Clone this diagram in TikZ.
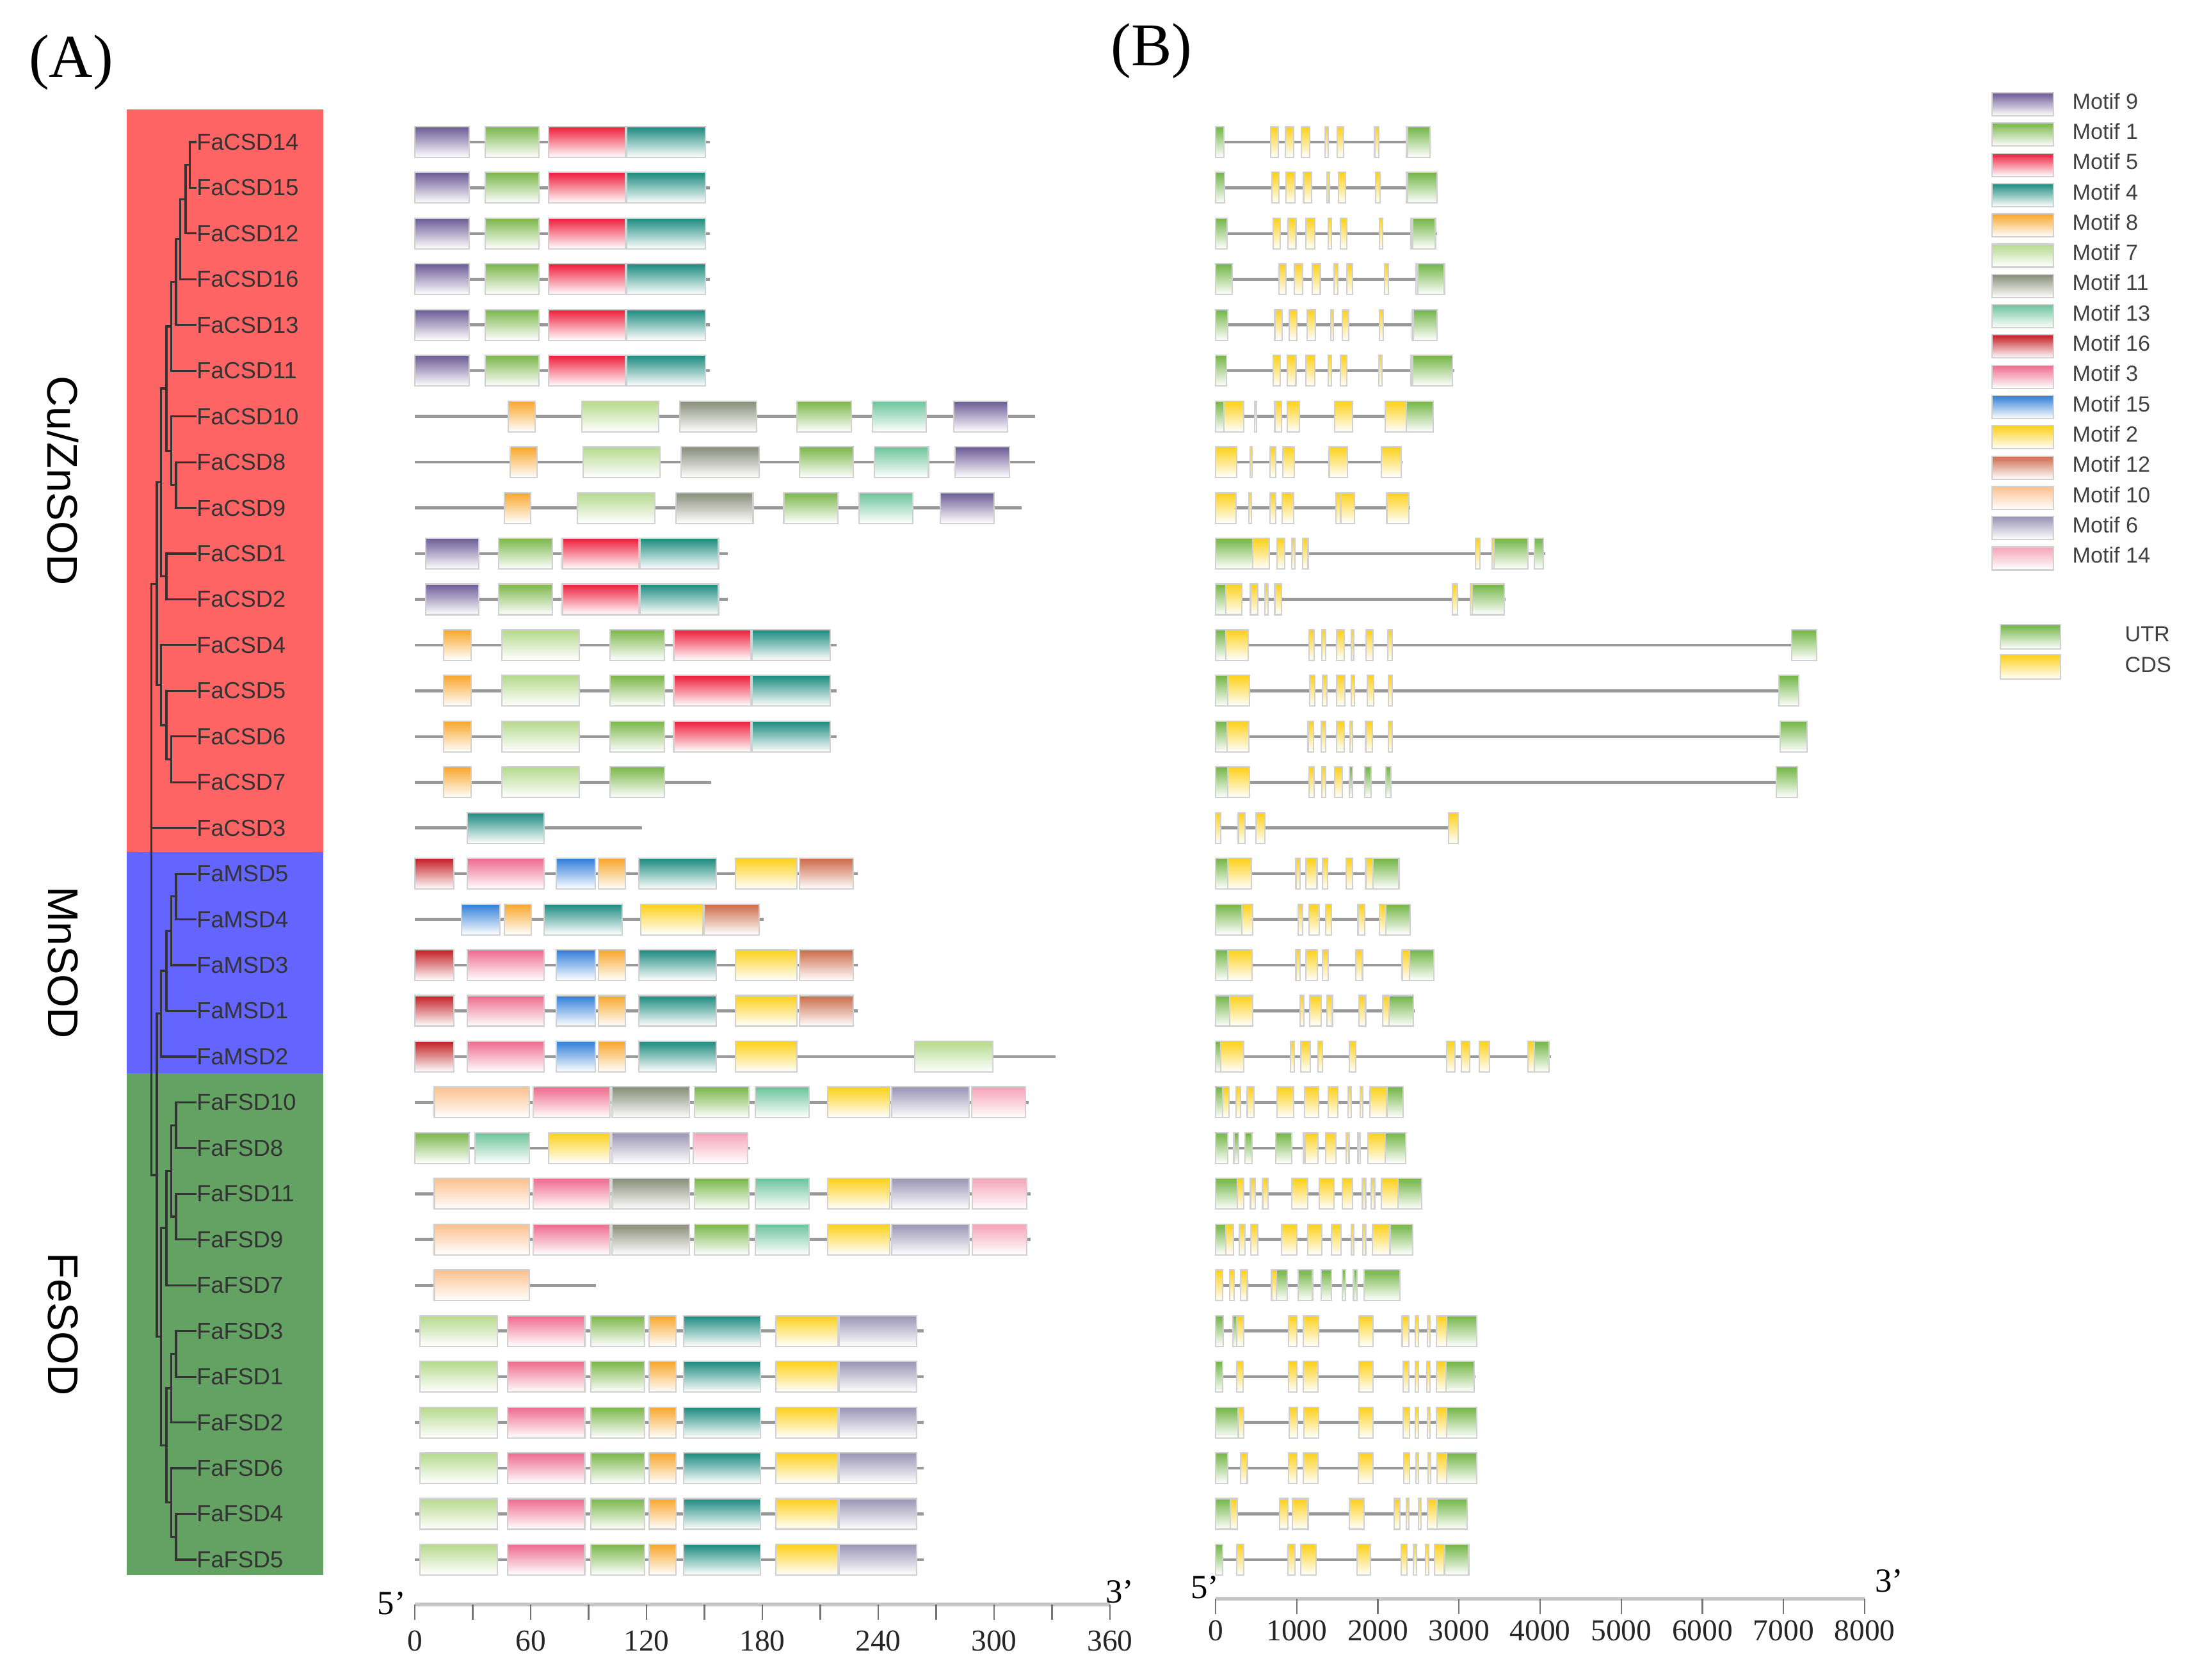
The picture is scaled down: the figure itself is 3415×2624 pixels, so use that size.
\documentclass[tikz,border=0pt]{standalone}
\usepackage{fontspec}
\setmainfont{Liberation Serif}
\newfontfamily\lsans{Liberation Sans}
\usepackage{xcolor}
\usepackage{tikz}
\usetikzlibrary{calc}

\definecolor{cuznband}{RGB}{255,100,100}
\definecolor{mnband}{RGB}{100,100,255}
\definecolor{feband}{RGB}{100,162,100}
\definecolor{mot9}{HTML}{6B5A96}
\definecolor{mot1}{HTML}{7AB648}
\definecolor{mot5}{HTML}{EE1C3A}
\definecolor{mot4}{HTML}{1A8A7E}
\definecolor{mot8}{HTML}{F8A62A}
\definecolor{mot7}{HTML}{B5D98C}
\definecolor{mot11}{HTML}{878C78}
\definecolor{mot13}{HTML}{6CC49A}
\definecolor{mot16}{HTML}{C41E24}
\definecolor{mot3}{HTML}{EE6A8C}
\definecolor{mot15}{HTML}{2F7ED8}
\definecolor{mot2}{HTML}{FDD017}
\definecolor{mot12}{HTML}{CC6A48}
\definecolor{mot10}{HTML}{FCC08C}
\definecolor{mot6}{HTML}{9A94B5}
\definecolor{mot14}{HTML}{F5A3B8}
\definecolor{utrgreen}{HTML}{72B545}
\definecolor{cdsyellow}{HTML}{FDD017}

\tikzstyle{branch} = [draw=black!80, line width=0.9pt]
\tikzstyle{genename} = [anchor=west, inner sep=0pt, text=black!80,
font=\lsans\fontsize{10.3}{12}\selectfont]
\tikzstyle{grouplabel} = [rotate=-90, font=\lsans\fontsize{19}{22}\selectfont]
\tikzstyle{panellabel} = [font=\fontsize{27}{30}\selectfont]
\tikzstyle{backbone} = [draw=black!40, line width=1.3pt]
\tikzstyle{block} = [draw=black!18, line width=0.6pt]
\tikzstyle{axisbar} = [draw=black!22, line width=1.8pt]
\tikzstyle{axistick} = [draw=black!55, line width=0.6pt]
\tikzstyle{ticklabel} = [text=black!85, font=\fontsize{13.5}{15}\selectfont]
\tikzstyle{primelabel} = [font=\fontsize{15}{17}\selectfont]
\tikzstyle{legendtext} = [anchor=west, inner sep=0pt, text=black!75,
font=\lsans\fontsize{9.7}{11}\selectfont]

\newcommand{\rowy}[1]{150.5+71.45*(#1)}
% protein: row, length, motifs start/end/colour
\newcommand{\protrow}[3]{%
  \draw[backbone] (0,{\rowy{#1}}) -- (#2,{\rowy{#1}});
  \foreach \xa/\xb/\col in {#3}
    \path[block, top color=\col, middle color=\col!45, bottom color=white]
      (\xa,{\rowy{#1}-24}) rectangle (\xb,{\rowy{#1}+24});}
% gene: row, length in kb
\newcommand{\genebar}[2]{\draw[backbone] (0,{\rowy{#1}}) -- (#2,{\rowy{#1}});}
\newcommand{\utrs}[2]{%
  \foreach \xa/\xb in {#2}
    \path[block, top color=utrgreen, middle color=utrgreen!45, bottom color=white]
      (\xa,{\rowy{#1}-24}) rectangle (\xb,{\rowy{#1}+24});}
\newcommand{\cdss}[2]{%
  \foreach \xa/\xb in {#2}
    \path[block, top color=cdsyellow, middle color=cdsyellow!45, bottom color=white]
      (\xa,{\rowy{#1}-24}) rectangle (\xb,{\rowy{#1}+24});}

\begin{document}
\begin{tikzpicture}[x=0.01cm, y=-0.01cm]
\fill[white] (0,0) rectangle (3415,2624);
\useasboundingbox (0,0) rectangle (3415,2624);

\node[panellabel] (pa) at (111,98) {(A)};
\node[panellabel] (pb) at (1799,80) {(B)};

% clade bands
\fill[cuznband] (198,171) rectangle (505,1331);
\fill[mnband] (198,1331) rectangle (505,1677);
\fill[feband] (198,1677) rectangle (505,2461);
\node[grouplabel] (cuzn) at (98,751) {Cu/ZnSOD};
\node[grouplabel] (mn) at (98,1504) {MnSOD};
\node[grouplabel] (fe) at (98,2069) {FeSOD};

% tips and names
\foreach \r/\name in {1/FaCSD14,2/FaCSD15,3/FaCSD12,4/FaCSD16,5/FaCSD13,6/FaCSD11,
  7/FaCSD10,8/FaCSD8,9/FaCSD9,10/FaCSD1,11/FaCSD2,12/FaCSD4,13/FaCSD5,14/FaCSD6,
  15/FaCSD7,16/FaCSD3,17/FaMSD5,18/FaMSD4,19/FaMSD3,20/FaMSD1,21/FaMSD2,
  22/FaFSD10,23/FaFSD8,24/FaFSD11,25/FaFSD9,26/FaFSD7,27/FaFSD3,28/FaFSD1,
  29/FaFSD2,30/FaFSD6,31/FaFSD4,32/FaFSD5}{
  \coordinate (t\r) at (306.7,{\rowy{\r}});
  \node[genename] (g\r) at (t\r) {\name};
}

% inner nodes
\coordinate (a1) at (296.7,{\rowy{1.5}});
\coordinate (a2) at (290,{\rowy{2.25}});
\coordinate (a3) at (281.7,{\rowy{3.125}});
\coordinate (a4) at (275,{\rowy{4.0625}});
\coordinate (a5) at (267.3,{\rowy{5.031}});
\coordinate (b1) at (275,{\rowy{8.5}});
\coordinate (b2) at (267.3,{\rowy{7.75}});
\coordinate (a6) at (260,{\rowy{6.39}});
\coordinate (c1) at (260,{\rowy{10.5}});
\coordinate (a7) at (251.7,{\rowy{8.445}});
\coordinate (d1) at (267.3,{\rowy{14.5}});
\coordinate (d2) at (260,{\rowy{13.75}});
\coordinate (d3) at (251.7,{\rowy{12.875}});
\coordinate (a8) at (245,{\rowy{10.66}});
\coordinate (m1) at (275,{\rowy{17.5}});
\coordinate (m2) at (267.3,{\rowy{18.25}});
\coordinate (m3) at (260,{\rowy{19.125}});
\coordinate (m4) at (251.7,{\rowy{20.06}});
\coordinate (f1) at (275,{\rowy{22.5}});
\coordinate (f2) at (275,{\rowy{24.5}});
\coordinate (f3) at (267.3,{\rowy{23.5}});
\coordinate (f4) at (260,{\rowy{24.75}});
\coordinate (f5) at (275,{\rowy{27.5}});
\coordinate (f6) at (267.3,{\rowy{28.25}});
\coordinate (f7) at (275,{\rowy{31.5}});
\coordinate (f8) at (267.3,{\rowy{30.75}});
\coordinate (f9) at (260,{\rowy{29.5}});
\coordinate (f10) at (251.7,{\rowy{27.125}});
\coordinate (mf) at (245,{\rowy{23.59}});
\coordinate (root) at (236.7,{\rowy{10.66}});

% tree
\draw[branch] (t1) -| (a1) |- (t2);
\draw[branch] (a1) -| (a2) |- (t3);
\draw[branch] (a2) -| (a3) |- (t4);
\draw[branch] (a3) -| (a4) |- (t5);
\draw[branch] (a4) -| (a5) |- (t6);
\draw[branch] (t8) -| (b1) |- (t9);
\draw[branch] (t7) -| (b2) |- (b1);
\draw[branch] (a5) -| (a6) |- (b2);
\draw[branch] (t10) -| (c1) |- (t11);
\draw[branch] (a6) -| (a7) |- (c1);
\draw[branch] (t14) -| (d1) |- (t15);
\draw[branch] (t13) -| (d2) |- (d1);
\draw[branch] (t12) -| (d3) |- (d2);
\draw[branch] (a7) -| (a8) |- (d3);
\draw[branch] (t17) -| (m1) |- (t18);
\draw[branch] (m1) -| (m2) |- (t19);
\draw[branch] (m2) -| (m3) |- (t20);
\draw[branch] (m3) -| (m4) |- (t21);
\draw[branch] (t22) -| (f1) |- (t23);
\draw[branch] (t24) -| (f2) |- (t25);
\draw[branch] (f1) -| (f3) |- (f2);
\draw[branch] (f3) -| (f4) |- (t26);
\draw[branch] (t27) -| (f5) |- (t28);
\draw[branch] (f5) -| (f6) |- (t29);
\draw[branch] (t31) -| (f7) |- (t32);
\draw[branch] (t30) -| (f8) |- (f7);
\draw[branch] (f6) -| (f9) |- (f8);
\draw[branch] (f4) -| (f10) |- (f9);
\draw[branch] (m4) -| (mf) |- (f10);
\draw[branch] (a8) -| (root) |- (mf);
\draw[branch] (t16) -| (root);

% (A) conserved motifs
\begin{scope}[shift={(648,0)}, xscale=3.0167]
\foreach \r in {1,...,6}{
  \protrow{\r}{152.7}{0/28.3/mot9, 36.4/64.3/mot1, 69.4/109.2/mot5, 109.7/150.4/mot4}}
\protrow{7}{321.3}{48.5/62.2/mot8, 86.4/126.4/mot7, 137.1/177.1/mot11, 198/226/mot1, 237.1/265/mot13, 279/306.9/mot9}
\protrow{8}{321.3}{49.4/63.2/mot8, 87.1/127.1/mot7, 138/178.3/mot11, 199.2/227.1/mot1, 238/266/mot13, 279.9/307.8/mot9}
\protrow{9}{314.3}{46.4/60.1/mot8, 84.1/124.3/mot7, 135.2/175.2/mot11, 191.1/219/mot1, 230.1/258/mot13, 272/299.9/mot9}
\foreach \r in {10,11}{
  \protrow{\r}{162}{5.5/33/mot9, 43.4/71.3/mot1, 76.4/116/mot5, 116.6/157.3/mot4}}
\foreach \r in {12,13,14}{
  \protrow{\r}{218.5}{15/29.2/mot8, 45.2/85.2/mot7, 101.1/129.4/mot1, 134.1/174.1/mot5, 174.8/215/mot4}}
\protrow{15}{153.4}{15/29.2/mot8, 45.2/85.2/mot7, 101.1/129.4/mot1}
\protrow{16}{117.8}{27.3/67.1/mot4}
\foreach \r in {17,19,20}{
  \protrow{\r}{229.4}{0/20.1/mot16, 27.1/67.1/mot3, 73.2/93.4/mot15, 95.2/109.2/mot8, 116/156.2/mot4, 166/198/mot2, 199.2/227.1/mot12}}
\protrow{18}{180.6}{24.1/44.1/mot15, 46.4/60.4/mot8, 67.1/107.3/mot4, 117.1/149.2/mot2, 149.9/178.3/mot12}
\protrow{21}{331.8}{0/20.1/mot16, 27.1/67.1/mot3, 73.2/93.4/mot15, 95.2/109.2/mot8, 116/156.2/mot4, 166/198/mot2, 259/299.2/mot7}
\protrow{22}{317.8}{10.1/59.2/mot10, 61.3/101.1/mot3, 102.2/142.2/mot11, 145/172.9/mot1, 176.2/204.1/mot13, 213.8/246/mot2, 246.9/287.1/mot6, 288.3/316.2/mot14}
\protrow{23}{173.6}{0/28.3/mot1, 31.1/59.2/mot13, 69.2/101.1/mot2, 102.2/142.2/mot6, 144.1/172.5/mot14}
\foreach \r in {24,25}{
  \protrow{\r}{319}{10.1/59.2/mot10, 61.3/101.1/mot3, 102.2/142.2/mot11, 145/172.9/mot1, 176.2/204.1/mot13, 213.8/246/mot2, 246.9/287.1/mot6, 288.8/317/mot14}}
\protrow{26}{93.9}{10.1/59.2/mot10}
\foreach \r in {27,...,32}{
  \protrow{\r}{263.6}{2.7/42.9/mot7, 48/88/mot3, 91.1/119/mot1, 121.3/135.2/mot8, 139.2/179/mot4, 187.1/219/mot2, 219.9/259.9/mot6}}
% axis
\draw[axisbar] (0,2507) -- (360,2507);
\foreach \t in {0,30,...,360} \draw[axistick] (\t,2507) -- (\t,2531);
\foreach \t in {0,60,...,360} \node[ticklabel] (la\t) at (\t,2564) {\t};
\node[primelabel] (fivea) at (-12,2505) {5'};
\node[primelabel] (threea) at (365,2487) {3'};
\end{scope}

% (B) exon-intron structure
\begin{scope}[shift={(1899,0)}, xscale=126.75]
\genebar{1}{2.64}\utrs{1}{0/0.10, 2.37/2.64}
\cdss{1}{0.68/0.77, 0.86/0.96, 1.06/1.16, 1.35/1.385, 1.50/1.575, 1.96/2.01, 2.35/2.37}
\genebar{2}{2.73}\utrs{2}{0/0.11, 2.37/2.73}
\cdss{2}{0.695/0.78, 0.87/0.98, 1.085/1.18, 1.37/1.40, 1.515/1.60, 1.97/2.03, 2.35/2.37}
\genebar{3}{2.73}\utrs{3}{0/0.14, 2.43/2.71}
\cdss{3}{0.71/0.80, 0.89/0.99, 1.11/1.22, 1.39/1.43, 1.54/1.62, 2.02/2.06, 2.41/2.43}
\genebar{4}{2.83}\utrs{4}{0/0.205, 2.49/2.82}
\cdss{4}{0.78/0.87, 0.97/1.07, 1.19/1.29, 1.46/1.505, 1.62/1.69, 2.08/2.13, 2.47/2.49}
\genebar{5}{2.74}\utrs{5}{0/0.15, 2.44/2.73}
\cdss{5}{0.73/0.82, 0.91/1.00, 1.13/1.23, 1.42/1.45, 1.56/1.64, 2.02/2.07, 2.42/2.44}
\genebar{6}{2.94}\utrs{6}{0/0.135, 2.43/2.92}
\cdss{6}{0.71/0.80, 0.88/0.99, 1.11/1.22, 1.39/1.43, 1.54/1.62, 2.01/2.05, 2.41/2.43}
\genebar{7}{2.69}\utrs{7}{0/0.10, 2.35/2.68}
\cdss{7}{0.10/0.345, 0.478/0.507, 0.73/0.81, 0.885/1.03, 1.47/1.69, 2.09/2.35}
\genebar{8}{2.30}
\cdss{8}{0/0.26, 0.426/0.45, 0.67/0.74, 0.83/0.97, 1.40/1.625, 2.04/2.29}
\genebar{9}{2.40}
\cdss{9}{0/0.25, 0.41/0.44, 0.67/0.74, 0.82/0.96, 1.485/1.54, 1.545/1.71, 2.11/2.38}
\genebar{10}{4.06}\utrs{10}{0/0.46, 3.43/3.85, 3.93/4.04}
\cdss{10}{0.46/0.66, 0.76/0.85, 0.94/0.98, 1.07/1.14, 3.20/3.26, 3.41/3.43}
\genebar{11}{3.57}\utrs{11}{0/0.125, 3.16/3.56}
\cdss{11}{0.125/0.325, 0.43/0.52, 0.61/0.65, 0.73/0.81, 2.92/2.98, 3.14/3.16}
\genebar{12}{7.41}\utrs{12}{0/0.125, 7.10/7.41}
\cdss{12}{0.125/0.40, 1.155/1.215, 1.31/1.36, 1.49/1.585, 1.67/1.70, 1.855/1.94, 2.12/2.18}
\genebar{13}{7.19}\utrs{13}{0/0.15, 6.94/7.19}
\cdss{13}{0.15/0.42, 1.16/1.22, 1.32/1.37, 1.49/1.59, 1.675/1.715, 1.87/1.95, 2.13/2.18}
\genebar{14}{7.29}\utrs{14}{0/0.14, 6.96/7.29}
\cdss{14}{0.14/0.41, 1.14/1.21, 1.30/1.36, 1.49/1.585, 1.66/1.69, 1.85/1.93, 2.13/2.18}
\genebar{15}{7.17}\utrs{15}{0/0.15, 1.65/1.69, 1.84/1.92, 2.10/2.16, 6.91/7.17}
\cdss{15}{0.15/0.42, 1.155/1.215, 1.31/1.36, 1.47/1.565}
\genebar{16}{2.99}
\cdss{16}{0/0.06, 0.28/0.36, 0.50/0.61, 2.87/2.99}
\genebar{17}{2.27}\utrs{17}{0/0.15, 1.94/2.26}
\cdss{17}{0.15/0.44, 0.99/1.04, 1.115/1.25, 1.32/1.38, 1.61/1.69, 1.85/1.94}
\genebar{18}{2.41}\utrs{18}{0/0.325, 2.10/2.40}
\cdss{18}{0.325/0.46, 1.02/1.07, 1.155/1.28, 1.36/1.425, 1.755/1.835, 2.02/2.10}
\genebar{19}{2.70}\utrs{19}{0/0.15, 2.39/2.69}
\cdss{19}{0.15/0.45, 0.99/1.04, 1.115/1.255, 1.32/1.39, 1.73/1.81, 2.30/2.39}
\genebar{20}{2.45}\utrs{20}{0/0.17, 2.14/2.44}
\cdss{20}{0.17/0.46, 1.04/1.09, 1.16/1.30, 1.37/1.44, 1.77/1.85, 2.06/2.14}
\genebar{21}{4.13}\utrs{21}{0/0.06, 3.93/4.11}
\cdss{21}{0.06/0.35, 0.92/0.97, 1.05/1.17, 1.26/1.32, 1.65/1.73, 2.85/2.95, 3.03/3.13, 3.25/3.38, 3.85/3.93}
\genebar{22}{2.32}\utrs{22}{0/0.085, 2.11/2.31}
\cdss{22}{0.085/0.165, 0.25/0.305, 0.39/0.47, 0.76/0.96, 1.095/1.27, 1.385/1.505, 1.635/1.675, 1.78/1.815, 1.90/2.11}
\genebar{23}{2.35}\utrs{23}{0/0.15, 0.225/0.285, 0.365/0.45, 0.74/0.94, 1.08/1.10, 2.09/2.34}
\cdss{23}{1.10/1.26, 1.36/1.485, 1.61/1.645, 1.755/1.785, 1.875/2.09}
\genebar{24}{2.55}\utrs{24}{0/0.265, 2.25/2.54}
\cdss{24}{0.265/0.35, 0.43/0.49, 0.58/0.65, 0.94/1.135, 1.28/1.46, 1.56/1.69, 1.81/1.85, 1.92/1.96, 2.04/2.25}
\genebar{25}{2.44}\utrs{25}{0/0.125, 2.15/2.43}
\cdss{25}{0.125/0.22, 0.29/0.36, 0.435/0.52, 0.81/1.00, 1.135/1.31, 1.425/1.545, 1.675/1.70, 1.815/1.85, 1.935/2.15}
\genebar{26}{2.28}\utrs{26}{0.75/0.88, 1.02/1.195, 1.30/1.43, 1.56/1.60, 1.70/1.74, 1.83/2.27}
\cdss{26}{0/0.09, 0.17/0.23, 0.31/0.39, 0.69/0.75}
\genebar{27}{3.23}\utrs{27}{0/0.096, 0.21/0.26, 2.85/3.22}
\cdss{27}{0.26/0.345, 0.90/1.00, 1.08/1.27, 1.77/1.94, 2.30/2.38, 2.46/2.50, 2.61/2.64, 2.72/2.85}
\genebar{28}{3.20}\utrs{28}{0/0.09, 2.84/3.19}
\cdss{28}{0.26/0.34, 0.90/1.00, 1.08/1.26, 1.77/1.94, 2.31/2.38, 2.46/2.50, 2.60/2.64, 2.72/2.84}
\genebar{29}{3.23}\utrs{29}{0/0.28, 2.85/3.22}
\cdss{29}{0.28/0.345, 0.91/1.01, 1.09/1.27, 1.77/1.94, 2.31/2.39, 2.46/2.50, 2.61/2.64, 2.72/2.85}
\genebar{30}{3.23}\utrs{30}{0/0.15, 2.85/3.22}
\cdss{30}{0.305/0.39, 0.90/1.00, 1.08/1.26, 1.76/1.94, 2.32/2.39, 2.47/2.50, 2.62/2.65, 2.73/2.85}
\genebar{31}{3.11}\utrs{31}{0/0.18, 2.73/3.10}
\cdss{31}{0.18/0.265, 0.79/0.89, 0.95/1.14, 1.65/1.83, 2.20/2.27, 2.35/2.38, 2.50/2.53, 2.61/2.73}
\genebar{32}{3.13}\utrs{32}{0/0.085, 2.82/3.12}
\cdss{32}{0.26/0.35, 0.89/0.98, 1.05/1.24, 1.74/1.91, 2.29/2.36, 2.44/2.48, 2.59/2.63, 2.70/2.82}
% axis
\draw[axisbar] (0,2498) -- (8,2498);
\foreach \t in {0,...,8} \draw[axistick] (\t,2498) -- (\t,2522);
\foreach \t in {0,...,8}{
  \pgfmathtruncatemacro{\bp}{\t*1000}
  \node[ticklabel] (lb\t) at (\t,2548) {\bp};}
\node[primelabel] (fiveb) at (-0.13,2480) {5'};
\node[primelabel] (threeb) at (8.30,2470) {3'};
\end{scope}

% legend
\foreach \k/\col/\num in {0/mot9/9, 1/mot1/1, 2/mot5/5, 3/mot4/4, 4/mot8/8, 5/mot7/7,
  6/mot11/11, 7/mot13/13, 8/mot16/16, 9/mot3/3, 10/mot15/15, 11/mot2/2, 12/mot12/12,
  13/mot10/10, 14/mot6/6, 15/mot14/14}{
  \path[block, top color=\col, middle color=\col!45, bottom color=white]
    ({3112},{145+47.3*\k}) rectangle ({3208},{181+47.3*\k});
  \node[legendtext] (leg\k) at ({3237},{158+47.3*\k}) {Motif \num};
}
\path[block, top color=utrgreen, middle color=utrgreen!45, bottom color=white]
  (3125,976) rectangle (3219,1014);
\node[legendtext] (utr) at (3319,991) {UTR};
\path[block, top color=cdsyellow, middle color=cdsyellow!45, bottom color=white]
  (3125,1023) rectangle (3219,1061);
\node[legendtext] (cds) at (3319,1039) {CDS};
\end{tikzpicture}
\end{document}
